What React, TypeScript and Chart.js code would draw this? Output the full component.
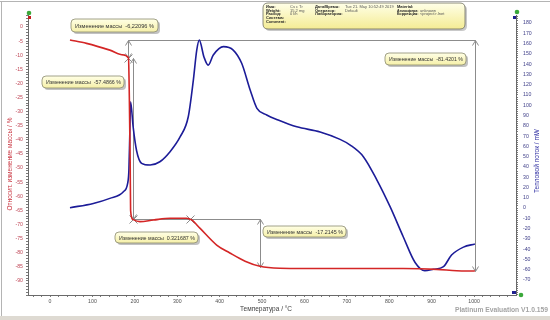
import React, { useEffect, useRef } from "react";
import { Chart, registerables } from "chart.js";

Chart.register(...registerables);

// ---- data ----
const massTemps = [47, 86, 141, 173, 185, 187, 189, 190, 195, 212, 244, 283, 322, 334, 354, 393, 424, 460, 495, 542, 600, 676, 760, 833, 912, 959, 1002];
const massValues = [-4.6, -5.8, -8.2, -9.9, -11.0, -24.7, -48, -65, -68.2, -69.0, -68.4, -67.8, -67.8, -68.4, -71.4, -77.3, -80.1, -83.0, -84.8, -85.5, -85.6, -85.6, -85.6, -85.6, -85.9, -86.4, -86.5];

const heatTemps = [47, 102, 141, 173, 183, 186, 188, 190, 196, 204, 216, 236, 259, 283, 307, 326, 338, 346, 352, 363, 373, 385, 409, 432, 452, 472, 488, 511, 538, 582, 637, 684, 708, 739, 771, 802, 833, 861, 884, 904, 928, 947, 975, 1002];
const heatValues = [0.3, 4.5, 9.4, 15.9, 24, 37, 70, 103.4, 79, 56, 43.5, 41.8, 45, 54.8, 69.4, 88.8, 124.5, 153.7, 163.4, 147, 139, 148.8, 157, 153.7, 140.8, 114.8, 97, 90.5, 85.6, 79, 74, 66.8, 61.3, 50, 27.2, 1.3, -27.9, -53, -61, -59.6, -57, -45.7, -38, -35];

// mass-step evaluation points (temperature, level)
const stepTemps = [185, 195, 330, 495, 1002];
const stepLevels = [-11.0, -68.2, -67.9, -85.2, -86.5];
const stepTexts = [
  "Изменение массы  -6,22096 %",
  "Изменение массы  -57.4866 %",
  "Изменение массы  0.321687 %",
  "Изменение массы  -17.2145 %",
  "Изменение массы  -81.4201 %",
];

const xTitle = "Температура / °C";
const yLeftTitle = "Относит. изменение массы / %";
const yRightTitle = "Тепловой поток / mW";
const footer = "Platinum Evaluation V1.0.159";

const infoLabels1 = ["Имя:", "Weight:", "Расход:", "Система:", "Comment:"];
const infoValues1 = ["Cs c Tr", "15.2 mg", "0 l/h", "", ""];
const infoLabels2 = ["Дата/Время:", "Оператор:", "Лаборатория:"];
const infoValues2 = ["Tue 21. May 10:52:49 2019", "Default", ""];
const infoLabels3 = ["Material:", "Атмосфера:", "Коррекция:"];
const infoValues3 = ["", "unknown", "<project>.lnet"];

const FONT = "'Liberation Sans', Arial, sans-serif";

function roundRect(ctx: CanvasRenderingContext2D, x: number, y: number, w: number, h: number, r: number) {
  ctx.beginPath();
  ctx.moveTo(x + r, y);
  ctx.lineTo(x + w - r, y);
  ctx.quadraticCurveTo(x + w, y, x + w, y + r);
  ctx.lineTo(x + w, y + h - r);
  ctx.quadraticCurveTo(x + w, y + h, x + w - r, y + h);
  ctx.lineTo(x + r, y + h);
  ctx.quadraticCurveTo(x, y + h, x, y + h - r);
  ctx.lineTo(x, y + r);
  ctx.quadraticCurveTo(x, y, x + r, y);
  ctx.closePath();
}

function callout(ctx: CanvasRenderingContext2D, x: number, y: number, w: number, h: number, text: string) {
  ctx.save();
  ctx.fillStyle = "rgba(120,120,120,0.45)";
  roundRect(ctx, x + 2, y + 2, w, h, 4);
  ctx.fill();
  const g = ctx.createLinearGradient(0, y, 0, y + h);
  g.addColorStop(0, "#ffffe6");
  g.addColorStop(1, "#f6f0a8");
  ctx.fillStyle = g;
  roundRect(ctx, x, y, w, h, 4);
  ctx.fill();
  ctx.strokeStyle = "#8a8a70";
  ctx.lineWidth = 0.8;
  ctx.stroke();
  ctx.fillStyle = "#333333";
  ctx.font = `5.6px ${FONT}`;
  ctx.textBaseline = "middle";
  ctx.textAlign = "left";
  ctx.fillText(text, x + 4, y + h / 2 + 0.5, w - 7);
  ctx.restore();
}

const decorPlugin = {
  id: "decor",
  beforeDraw(chart: any) {
    const ctx: CanvasRenderingContext2D = chart.ctx;
    ctx.save();
    ctx.fillStyle = "#ffffff";
    ctx.fillRect(0, 0, chart.width, chart.height);
    ctx.fillStyle = "#dedad2";
    ctx.fillRect(0, 316, chart.width, chart.height - 316);
    ctx.strokeStyle = "#b4b4b4";
    ctx.lineWidth = 1;
    ctx.beginPath();
    ctx.moveTo(0, 1.5);
    ctx.lineTo(chart.width, 1.5);
    ctx.moveTo(1.5, 1.5);
    ctx.lineTo(1.5, 316);
    ctx.stroke();
    ctx.restore();
  },
  beforeDatasetsDraw(chart: any) {
    const ctx: CanvasRenderingContext2D = chart.ctx;
    const sx = chart.scales.x;
    const sy = chart.scales.y;
    const px = (t: number) => Math.round(sx.getPixelForValue(t)) + 0.5;
    const py = (m: number) => Math.round(sy.getPixelForValue(m)) + 0.5;
    const start = massValues[0];
    ctx.save();
    ctx.strokeStyle = "#8c8c8c";
    ctx.lineWidth = 1;
    const line = (x1: number, y1: number, x2: number, y2: number) => {
      ctx.beginPath();
      ctx.moveTo(x1, y1);
      ctx.lineTo(x2, y2);
      ctx.stroke();
    };
    const arrow = (x: number, y: number, dir: number) => {
      ctx.beginPath();
      ctx.moveTo(x - 3, y + dir * 5);
      ctx.lineTo(x, y);
      ctx.lineTo(x + 3, y + dir * 5);
      ctx.stroke();
    };
    const cross = (x: number, y: number) => {
      line(x - 4, y - 4, x + 4, y + 4);
      line(x - 4, y + 4, x + 4, y - 4);
    };
    // -6.22 / -81.42
    line(px(stepTemps[0]), py(start), px(stepTemps[4]), py(start));
    line(px(stepTemps[0]), py(start), px(stepTemps[0]), py(stepLevels[0]));
    arrow(px(stepTemps[0]), py(start), 1);
    arrow(px(stepTemps[0]), py(stepLevels[0]), -1);
    line(px(stepTemps[4]), py(start), px(stepTemps[4]), py(stepLevels[4]));
    arrow(px(stepTemps[4]), py(start), 1);
    arrow(px(stepTemps[4]), py(stepLevels[4]), -1);
    // -57.49
    line(px(stepTemps[1]), py(stepLevels[0]), px(stepTemps[1]), py(stepLevels[1]));
    arrow(px(stepTemps[1]), py(stepLevels[0]), 1);
    arrow(px(stepTemps[1]), py(stepLevels[1]), -1);
    // 0.32 / -17.21
    line(px(stepTemps[1]), py(stepLevels[1]), px(stepTemps[3]), py(stepLevels[1]));
    line(px(stepTemps[3]), py(stepLevels[1]), px(stepTemps[3]), py(stepLevels[3]));
    arrow(px(stepTemps[3]), py(stepLevels[1]), 1);
    arrow(px(stepTemps[3]), py(stepLevels[3]), -1);
    cross(px(stepTemps[0]), py(stepLevels[0]));
    cross(px(stepTemps[1]), py(stepLevels[1]));
    cross(px(stepTemps[2]), py(stepLevels[2]));
    ctx.restore();
  },
  afterDraw(chart: any) {
    const ctx: CanvasRenderingContext2D = chart.ctx;
    ctx.save();
    // callouts
    callout(ctx, 71, 19, 87, 13, stepTexts[0]);
    callout(ctx, 42, 76, 82, 12, stepTexts[1]);
    callout(ctx, 115, 232, 83, 11, stepTexts[2]);
    callout(ctx, 263, 226, 83, 11, stepTexts[3]);
    callout(ctx, 385, 53, 81, 12, stepTexts[4]);

    // info box
    const bx = 263, by = 3, bw = 202, bh = 26;
    ctx.fillStyle = "rgba(120,120,120,0.4)";
    roundRect(ctx, bx + 2, by + 2, bw, bh, 5);
    ctx.fill();
    const g = ctx.createLinearGradient(0, by, 0, by + bh);
    g.addColorStop(0, "#ffffe8");
    g.addColorStop(1, "#f4ec94");
    ctx.fillStyle = g;
    roundRect(ctx, bx, by, bw, bh, 5);
    ctx.fill();
    ctx.strokeStyle = "#707060";
    ctx.lineWidth = 0.8;
    ctx.stroke();
    ctx.textBaseline = "middle";
    ctx.textAlign = "left";
    const rowY = (i: number) => by + 3.6 + i * 3.8;
    const col = (labels: string[], values: string[], lx: number, vx: number, vw: number) => {
      labels.forEach((l, i) => {
        ctx.font = `bold 4px ${FONT}`;
        ctx.fillStyle = "#222222";
        ctx.fillText(l, lx, rowY(i), vx - lx - 1.5);
        ctx.font = `4px ${FONT}`;
        ctx.fillStyle = "#555555";
        if (values[i]) ctx.fillText(values[i], vx, rowY(i), vw);
      });
    };
    col(infoLabels1, infoValues1, 266, 290, 22);
    col(infoLabels2, infoValues2, 315, 345, 50);
    col(infoLabels3, infoValues3, 397, 420, 42);

    // axis titles
    ctx.font = `6.5px ${FONT}`;
    ctx.textAlign = "center";
    ctx.textBaseline = "middle";
    ctx.fillStyle = "#404040";
    ctx.fillText(xTitle, 266, 309);
    ctx.save();
    ctx.translate(10, 164);
    ctx.rotate(-Math.PI / 2);
    ctx.fillStyle = "#c8303c";
    ctx.fillText(yLeftTitle, 0, 0);
    ctx.restore();
    ctx.save();
    ctx.translate(537, 161);
    ctx.rotate(-Math.PI / 2);
    ctx.fillStyle = "#2a2aa0";
    ctx.fillText(yRightTitle, 0, 0);
    ctx.restore();

    // footer
    ctx.font = `bold 7.5px ${FONT}`;
    ctx.textAlign = "right";
    ctx.fillStyle = "#a4a4a4";
    ctx.fillText(footer, 548, 309.5, 93);

    // axis handles
    const area = chart.chartArea;
    ctx.fillStyle = "#3aa83a";
    [[area.left + 1, area.top - 2], [area.right + 1, area.top - 3], [area.right + 5, area.bottom]].forEach(([x, y]) => {
      ctx.beginPath();
      ctx.arc(x, y, 2.3, 0, Math.PI * 2);
      ctx.fill();
    });
    ctx.fillStyle = "#c02020";
    ctx.fillRect(area.left, area.top + 1, 3, 3);
    ctx.fillStyle = "#202090";
    ctx.fillRect(area.right - 3, area.top + 1, 3, 3);
    ctx.fillRect(area.right - 4, area.bottom - 4, 4, 3);
    ctx.restore();
  },
};

export default function App() {
  const ref = useRef<HTMLCanvasElement | null>(null);
  useEffect(() => {
    if (!ref.current) return;
    const chart = new Chart(ref.current, {
      type: "line",
      data: {
        datasets: [
          {
            label: "Масса",
            data: massTemps.map((t, i) => ({ x: t, y: massValues[i] })),
            yAxisID: "y",
            borderColor: "#d42626",
            borderWidth: 1.6,
            pointRadius: 0,
            cubicInterpolationMode: "monotone",
          },
          {
            label: "Тепловой поток",
            data: heatTemps.map((t, i) => ({ x: t, y: heatValues[i] })),
            yAxisID: "y2",
            borderColor: "#1c1c98",
            borderWidth: 1.6,
            pointRadius: 0,
            cubicInterpolationMode: "monotone",
          },
        ],
      },
      options: {
        responsive: false,
        animation: false,
        devicePixelRatio: 1,
        layout: { padding: { top: 15, left: 0, right: 0, bottom: 0 } },
        plugins: { legend: { display: false }, tooltip: { enabled: false } },
        scales: {
          x: {
            type: "linear",
            position: "bottom",
            min: -52,
            max: 1099,
            afterFit: (s: any) => { s.height = 25; },
            border: { color: "#6a6a6a", width: 1 },
            grid: { drawOnChartArea: false, drawTicks: true, tickLength: 2, color: "#7a7a7a" },
            ticks: {
              stepSize: 20,
              includeBounds: false,
              autoSkip: false,
              maxRotation: 0,
              padding: 1,
              color: "#505050",
              font: { size: 5.2, family: FONT },
              callback: (v: any) => (Number(v) % 100 === 0 ? String(v) : ""),
            },
          },
          y: {
            type: "linear",
            position: "left",
            min: -95,
            max: 4.25,
            afterFit: (s: any) => { s.width = 28; },
            border: { color: "#6a6a6a", width: 1 },
            grid: { drawOnChartArea: false, drawTicks: true, tickLength: 2, color: "#7a7a7a" },
            ticks: {
              stepSize: 1,
              includeBounds: false,
              autoSkip: false,
              padding: 3,
              color: "#c04858",
              font: { size: 5.2, family: FONT },
              callback: (v: any) => (Number(v) % 5 === 0 && Number(v) >= -90 ? String(v) : ""),
            },
          },
          y2: {
            type: "linear",
            position: "right",
            min: -84.6,
            max: 187.8,
            afterFit: (s: any) => { s.width = 34; },
            border: { color: "#6a6a6a", width: 1 },
            grid: { drawOnChartArea: false, drawTicks: true, tickLength: 2, color: "#7a7a7a" },
            ticks: {
              stepSize: 2,
              includeBounds: false,
              autoSkip: false,
              padding: 5,
              color: "#40408a",
              font: { size: 5.2, family: FONT },
              callback: (v: any) => (Number(v) % 10 === 0 && Number(v) >= -70 ? String(v) : ""),
            },
          },
        },
      },
      plugins: [decorPlugin],
    } as any);
    return () => chart.destroy();
  }, []);

  return (
    <div style={{ position: "fixed", left: 0, top: 0, width: 550, height: 320, background: "#ffffff" }}>
      <canvas ref={ref} width={550} height={320} style={{ display: "block", width: 550, height: 320 }} />
    </div>
  );
}
